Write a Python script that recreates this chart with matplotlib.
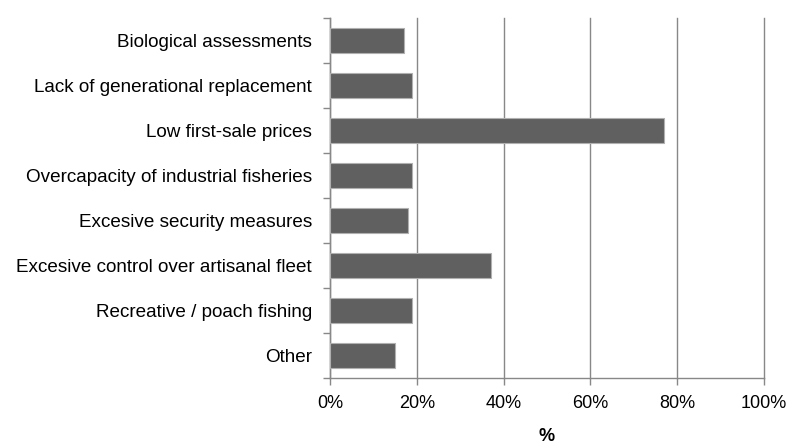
import matplotlib
matplotlib.use("Agg")
import matplotlib.pyplot as plt
import numpy as np

categories = ["Biological assessments", "Lack of generational replacement", "Low first-sale prices",
              "Overcapacity of industrial fisheries", "Excesive security measures",
              "Excesive control over artisanal fleet", "Recreative / poach fishing", "Other"]
values = [17, 19, 77, 19, 18, 37, 19, 15]
xticks = [0, 20, 40, 60, 80, 100]
xtick_labels = ["0%", "20%", "40%", "60%", "80%", "100%"]

plt.rcParams['font.family'] = ['Liberation Sans', 'DejaVu Sans']

fig = plt.figure(figsize=(7.87, 4.47), dpi=100)
ax = fig.add_axes([330/787, 1-378/447, (764-330)/787, (378-18)/447])

n = len(categories)
y = np.arange(n)
ax.barh(y, values, height=0.56, color="#606060", edgecolor="#b0b0b0", linewidth=0.8, zorder=3)
ax.set_ylim(n - 0.5, -0.5)
ax.set_xlim(0, 100)
ax.set_yticks(y)
ax.set_yticklabels(categories, fontsize=13.6)
ax.set_yticks(np.arange(n + 1) - 0.5, minor=True)
ax.tick_params(axis='y', which='major', length=0, pad=13)
ax.tick_params(axis='y', which='minor', length=5, color="#888888", width=1)
ax.set_xticks(xticks)
ax.set_xticklabels(xtick_labels, fontsize=13)
ax.tick_params(axis='x', length=5, color="#888888", width=1, pad=7)
ax.grid(axis='x', color="#888888", linewidth=1, zorder=0)
for gl in ax.get_xgridlines():
    gl.set_clip_on(False)
for s in ['top', 'right']:
    ax.spines[s].set_visible(False)
for s in ['left', 'bottom']:
    ax.spines[s].set_color("#888888")
    ax.spines[s].set_linewidth(1)
ax.set_xlabel("%", fontsize=13, fontweight='bold', labelpad=12)

fig.savefig("out.png", dpi=100)
